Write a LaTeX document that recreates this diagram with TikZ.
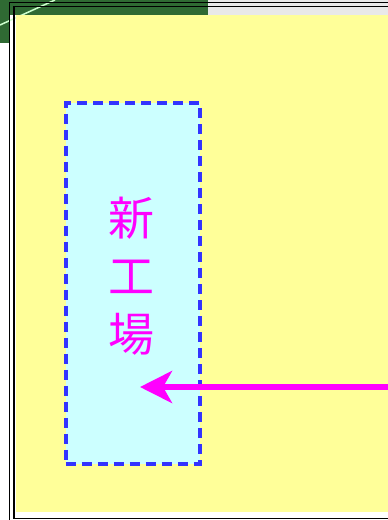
\documentclass[tikz,border=0pt]{standalone}
\usepackage{fontspec}
\newfontfamily\cjk{Noto Sans CJK JP}
\usetikzlibrary{arrows.meta,positioning}
\definecolor{paleyellow}{HTML}{FFFF99}
\definecolor{palecyan}{HTML}{CCFFFF}
\definecolor{dashblue}{HTML}{3333FF}
\definecolor{pinkish}{HTML}{FF00FF}
\definecolor{topgreen}{HTML}{2F6A33}
\definecolor{topgrey}{HTML}{E9E9E9}

\begin{document}
\begin{tikzpicture}[x=1pt,y=-1pt]
        \tikzset{
            factory/.style= {
                draw=dashblue,
                fill=palecyan,
                dash pattern=on 10pt off 6pt,
                line width=3.5pt,
                shape=rectangle,
                align=center,
                minimum width=134pt,
                minimum height=361pt,
                anchor=north west,
                inner sep=0pt
            },
            glyphs/.style= {
                text=pinkish,
                font=\cjk\fontsize{46}{58}\selectfont,
                align=center
            },
            frame/.style= {
                draw=black,
                line width=1.6pt
            },
            flow/.style= {
                draw=pinkish,
                line width=5.5pt,
                -{Stealth[length=32pt,width=32pt,inset=9pt]}
            },
        }
        \useasboundingbox (0,0) rectangle (388,520);
        \begin{scope}
        \clip (0,0) rectangle (388,520);
        % top strip
        \fill[topgreen] (0,0) rectangle (208,15);
        \fill[topgreen] (0,0) rectangle (9,43);
        \fill[topgrey] (208,0) rectangle (388,15);
        \draw[green!20!white,line width=1.5pt] (0,25) -- (55,0);
        % sheet
        \fill[paleyellow] (16,15) rectangle (400,512);
        \draw[frame] (9.5,2.5) rectangle (400,530);
        \draw[frame] (14,6.5) rectangle (395,518.5);
        \end{scope}
        \node [factory] (shop) at (64,101) {};
        \node [glyphs] (name) at (131,276)
            {新\\工\\場};
        \coordinate (tip) at (140,387);
        \coordinate (src) at (388,387);
%% paths
\draw[flow] (src) -- (tip);
\end{tikzpicture}
\end{document}
